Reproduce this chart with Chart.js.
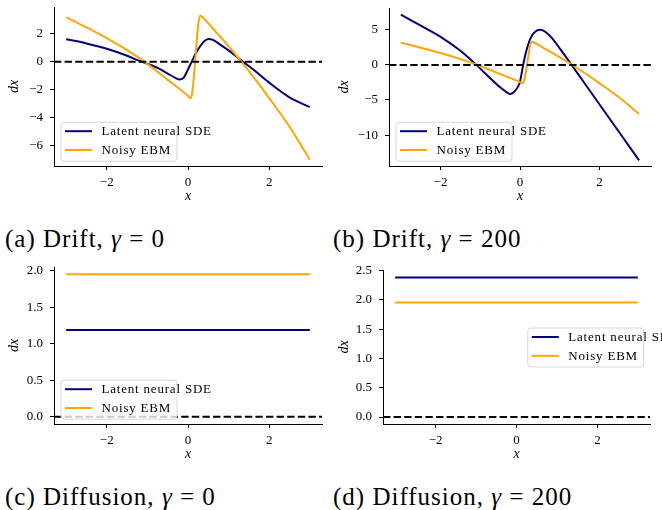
<!DOCTYPE html>
<html>
<head>
<meta charset="utf-8">
<script src="https://cdn.jsdelivr.net/npm/chart.js@4.4.1/dist/chart.umd.min.js"></script>
<style>
  body { margin: 0; background: #fff; width: 662px; height: 510px; overflow: hidden; position: relative; }
  canvas { position: absolute; }
  .cap { position: absolute; font-family: 'Liberation Serif', serif; font-size: 25px; letter-spacing: 1px;
         white-space: nowrap; color: #000; line-height: 25px; }
</style>
</head>
<body>
<canvas id="panelA" width="330" height="210" style="left:0px;top:0px"></canvas>
<canvas id="panelB" width="332" height="210" style="left:330px;top:0px"></canvas>
<canvas id="panelC" width="330" height="210" style="left:0px;top:255px"></canvas>
<canvas id="panelD" width="332" height="210" style="left:330px;top:255px"></canvas>

<div class="cap" style="left:5px;top:226px">(a) Drift, <i>γ</i> = 0</div>
<div class="cap" style="left:333px;top:226px">(b) Drift, <i>γ</i> = 200</div>
<div class="cap" style="left:5px;top:484px">(c) Diffusion, <i>γ</i> = 0</div>
<div class="cap" style="left:333px;top:484px">(d) Diffusion, <i>γ</i> = 200</div>

<script>
// ---------------- data ----------------

var xLimits = [-3.3, 3.3];
var xTicks = [-2, 0, 2];

// (a) drift, gamma = 0 : latent neural SDE
var latentDriftG0X = [-3, -2.5, -2, -1.5, -1.2, -1, -0.75, -0.5, -0.3, -0.2, -0.1, 0, 0.1, 0.2, 0.3, 0.4, 0.5, 0.6, 0.8, 1.0, 1.2, 1.35, 1.6, 2.0, 2.5, 3.0];
var latentDriftG0Y = [1.6, 1.3, 0.92, 0.42, 0.05, -0.15, -0.45, -0.85, -1.18, -1.27, -1.12, -0.55, 0.05, 0.65, 1.1, 1.45, 1.62, 1.57, 1.2, 0.8, 0.35, 0.0, -0.55, -1.5, -2.55, -3.25];

// noisy EBM drift (same curve in (a) and (b))
var noisyDriftX = [-3, -2.5, -2, -1.5, -1.1, -0.5, 0, 0.06, 0.1, 0.15, 0.2, 0.25, 0.3, 0.4, 0.6, 1.0, 1.3, 1.6, 2.0, 2.5, 3.0];
var noisyDriftY = [3.17, 2.45, 1.68, 0.82, 0.05, -1.3, -2.45, -2.62, -2.3, -0.9, 0.9, 2.6, 3.3, 3.05, 2.4, 1.1, 0.05, -1.05, -2.6, -4.65, -7.0];

// (b) drift, gamma = 200 : latent neural SDE
var latentDriftG200X = [-3, -2.5, -2, -1.5, -1.1, -0.75, -0.5, -0.35, -0.25, -0.15, -0.05, 0, 0.08, 0.15, 0.25, 0.35, 0.5, 0.6, 0.8, 1.0, 1.3, 1.6, 2.0, 2.5, 3.0];
var latentDriftG200Y = [7.14, 5.6, 4.0, 2.0, 0.0, -1.9, -3.2, -3.85, -4.14, -3.85, -3.1, -2.4, 0.0, 1.8, 3.6, 4.55, 5.0, 4.85, 3.85, 2.35, 0.0, -2.4, -5.6, -9.6, -13.6];

// (c), (d) diffusion
var diffusionX = [-3, 3];
var latentDiffG0Y = [1.19, 1.19];
var latentDiffG200Y = [2.38, 2.38];
var noisyDiffY = [1.955, 1.955];

var zeroLineY = [0, 0];

// axis ranges and ticks
var yLimitsA = [-7.45, 3.9];
var yLimitsB = [-14.4, 8.1];
var yLimitsC = [-0.098, 2.053];
var yLimitsD = [-0.119, 2.51];
var yTicksA = [2, 0, -2, -4, -6];
var yTicksB = [5, 0, -5, -10];
var yTicksC = [0, 0.5, 1.0, 1.5, 2.0];
var yTicksD = [0, 0.5, 1.0, 1.5, 2.0, 2.5];

// ---------------- helpers ----------------

var NAVY = '#000080';
var ORANGE = '#FFA500';
var SERIF = "'Liberation Serif', serif";

function pts(xs, ys) {
  return xs.map(function (x, i) { return {x: x, y: ys[i]}; });
}

function fmt(v, dec) {
  return v.toFixed(dec).replace('-', '\u2212');
}

// matplotlib style legend box drawn inside the axes
var boxLegend = {
  id: 'boxLegend',
  afterDatasetsDraw: function (chart, args, opts) {
    var ctx = chart.ctx;
    var ca = chart.chartArea;
    var items = chart.data.datasets.filter(function (d) { return d.label; }).reverse();
    var w = 116, h = 39;
    var left, top;
    if (opts.place === 'right') {
      left = ca.right - 6.7 - w;
      top = (ca.top + ca.bottom) / 2 - h / 2;
    } else {
      left = ca.left + 6.5;
      top = ca.bottom - 5.3 - h;
    }
    ctx.save();
    ctx.beginPath();
    ctx.roundRect(left + 0.5, top + 0.5, w, h, 3);
    ctx.fillStyle = 'rgba(255,255,255,0.8)';
    ctx.fill();
    ctx.strokeStyle = 'rgba(204,204,204,0.8)';
    ctx.lineWidth = 1;
    ctx.stroke();
    items.forEach(function (d, i) {
      var y = top + 9.5 + i * 18.8;
      ctx.beginPath();
      ctx.moveTo(left + 4.5, y);
      ctx.lineTo(left + 31.5, y);
      ctx.strokeStyle = d.borderColor;
      ctx.lineWidth = 2;
      ctx.stroke();
      ctx.fillStyle = '#000';
      ctx.font = '13px ' + SERIF;
      ctx.letterSpacing = '0.8px';
      ctx.textBaseline = 'middle';
      ctx.fillText(d.label, left + 41, y + 0.5);
    });
    ctx.restore();
  }
};

function makePanel(id, latent, noisy, yLim, yTicks, dec, place, g) {
  // g: yWidth, padTop, padRight, xHeight
  var canvasH = 210;
  var axisBottom = canvasH - g.xHeight;
  var xTitlePad = canvasH - (axisBottom + 30.5) - 8.4;
  new Chart(document.getElementById(id), {
    type: 'line',
    data: {
      datasets: [
        { data: pts(xLimits, zeroLineY), borderColor: '#000', borderWidth: 2, borderDash: [7.4, 3.2], pointRadius: 0 },
        { label: 'Noisy EBM', data: noisy, borderColor: ORANGE, borderWidth: 2, pointRadius: 0, cubicInterpolationMode: 'monotone' },
        { label: 'Latent neural SDE', data: latent, borderColor: NAVY, borderWidth: 2, pointRadius: 0, cubicInterpolationMode: 'monotone' }
      ]
    },
    options: {
      responsive: false,
      animation: false,
      devicePixelRatio: 1,
      events: [],
      layout: { padding: { left: 0, top: g.padTop, right: g.padRight, bottom: 0 } },
      plugins: { legend: { display: false }, tooltip: { enabled: false }, boxLegend: { place: place } },
      scales: {
        x: {
          type: 'linear',
          min: xLimits[0], max: xLimits[1],
          afterBuildTicks: function (s) { s.ticks = xTicks.map(function (v) { return {value: v}; }); },
          afterFit: function (s) { s.height = g.xHeight; s.paddingLeft = 0; s.paddingRight = 0; },
          ticks: { color: '#000', padding: 5, font: { family: SERIF, size: 13 }, callback: function (v) { return fmt(v, 0); } },
          grid: { display: true, drawOnChartArea: false, drawTicks: true, tickLength: 4, color: '#000', lineWidth: 1 },
          border: { display: true, color: '#000', width: 1 },
          title: { display: true, text: 'x', color: '#000', font: { family: SERIF, size: 14, style: 'italic' }, padding: { top: 0, bottom: xTitlePad } }
        },
        y: {
          type: 'linear',
          min: yLim[0], max: yLim[1],
          afterBuildTicks: function (s) { s.ticks = yTicks.map(function (v) { return {value: v}; }); },
          afterFit: function (s) { s.width = g.yWidth; s.paddingTop = 0; s.paddingBottom = 0; },
          ticks: { color: '#000', padding: 7, font: { family: SERIF, size: 13 }, callback: function (v) { return fmt(v, dec); } },
          grid: { display: true, drawOnChartArea: false, drawTicks: true, tickLength: 4, color: '#000', lineWidth: 1 },
          border: { display: true, color: '#000', width: 1 },
          title: { display: true, text: 'dx', color: '#000', font: { family: SERIF, size: 14, style: 'italic' }, padding: { top: 6, bottom: 0 } }
        }
      }
    },
    plugins: [boxLegend]
  });
}

makePanel('panelA', pts(latentDriftG0X, latentDriftG0Y), pts(noisyDriftX, noisyDriftY),
  yLimitsA, yTicksA, 0, 'lowerleft', { yWidth: 54, padTop: 7, padRight: 8, xHeight: 44 });
makePanel('panelB', pts(latentDriftG200X, latentDriftG200Y), pts(noisyDriftX, noisyDriftY),
  yLimitsB, yTicksB, 0, 'lowerleft', { yWidth: 59, padTop: 8, padRight: 11, xHeight: 44 });
makePanel('panelC', pts(diffusionX, latentDiffG0Y), pts(diffusionX, noisyDiffY),
  yLimitsC, yTicksC, 1, 'lowerleft', { yWidth: 54, padTop: 12, padRight: 8, xHeight: 41 });
makePanel('panelD', pts(diffusionX, latentDiffG200Y), pts(diffusionX, noisyDiffY),
  yLimitsD, yTicksD, 1, 'right', { yWidth: 53, padTop: 15, padRight: 12, xHeight: 41 });
</script>
</body>
</html>
